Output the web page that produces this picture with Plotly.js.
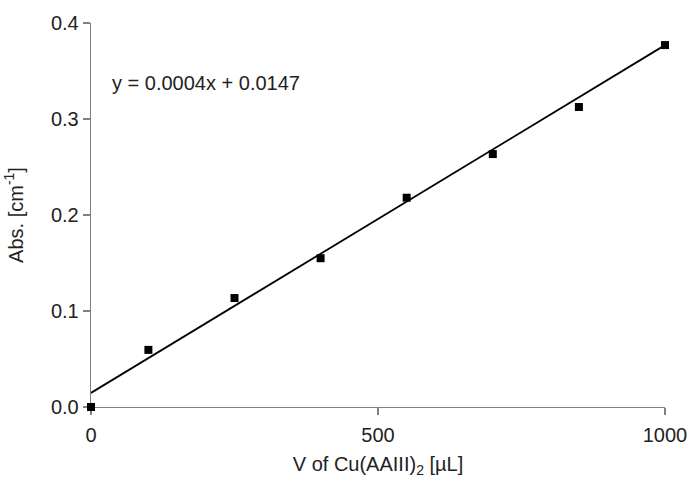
<!DOCTYPE html>
<html><head><meta charset="utf-8">
<script src="https://cdn.plot.ly/plotly-3.0.1.min.js"></script>
<style>html,body{margin:0;padding:0;background:#fff}#c{width:694px;height:481px}</style>
</head><body><div id="c"></div>
<script>
const volume = [0, 100, 250, 400, 550, 700, 850, 1000];
const absorbance = [0.0, 0.0595, 0.1135, 0.155, 0.218, 0.2635, 0.3125, 0.377];
const fitX = [0, 1000];
const fitY = [0.0147, 0.377];
const equationText = 'y = 0.0004x + 0.0147';
const xTicks = [0, 500, 1000];
const yTicks = [0, 0.1, 0.2, 0.3, 0.4];

const font = {family: 'Liberation Sans, Arial, sans-serif', size: 20, color: '#222'};
const axisCommon = {
  showline: true, linecolor: '#808080', linewidth: 1.3,
  ticks: 'outside', ticklen: 7, tickcolor: '#808080', tickwidth: 1.3,
  showgrid: false, zeroline: false, mirror: false,
  layer: 'below traces',
  tickfont: font
};
Plotly.newPlot('c', [
  {x: fitX, y: fitY, mode: 'lines', line: {color: '#000', width: 1.8}, cliponaxis: false, hoverinfo: 'skip'},
  {x: volume, y: absorbance, mode: 'markers', marker: {symbol: 'square', size: 8, color: '#000'}, cliponaxis: false}
], {
  width: 694, height: 481,
  margin: {l: 91, r: 29, t: 23, b: 74},
  paper_bgcolor: '#fff', plot_bgcolor: '#fff',
  showlegend: false,
  font: font,
  xaxis: Object.assign({}, axisCommon, {range: [0, 1000], tickvals: xTicks, ticktext: xTicks.map(String),
    ticklabelstandoff: 3,
    title: {text: 'V of Cu(AAIII)<sub>2</sub> [µL]', font: font, standoff: 11}}),
  yaxis: Object.assign({}, axisCommon, {range: [0, 0.4], tickvals: yTicks, ticktext: yTicks.map(v => v.toFixed(1)),
    title: {text: 'Abs. [cm<sup>-1</sup>]', font: font, standoff: 22}}),
  annotations: [{x: 33, y: 0.3375, xref: 'x', yref: 'y', text: equationText, showarrow: false,
    xanchor: 'left', yanchor: 'middle', font: font}]
}, {displayModeBar: false, staticPlot: true});
</script></body></html>
